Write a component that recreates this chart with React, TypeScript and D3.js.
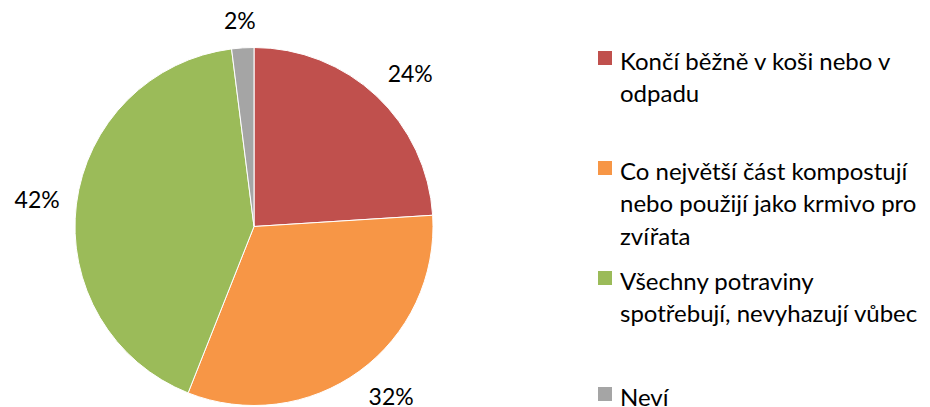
import React from "react";
import * as d3 from "d3";

const categories = [
  "Končí běžně v koši nebo v odpadu",
  "Co největší část kompostují nebo použijí jako krmivo pro zvířata",
  "Všechny potraviny spotřebují, nevyhazují vůbec",
  "Neví",
];
const values = [24, 32, 42, 2];
const labels = ["24%", "32%", "42%", "2%"];
const legendLines = [
  ["Končí běžně v koši nebo v", "odpadu"],
  ["Co největší část kompostují", "nebo použijí jako krmivo pro", "zvířata"],
  ["Všechny potraviny", "spotřebují, nevyhazují vůbec"],
  ["Neví"],
];
const colors = ["#C0504D", "#F79646", "#9BBB59", "#A5A5A5"];

const W = 930;
const H = 407;
const cx = 254;
const cy = 226.5;
const r = 179;
const legendY = [60, 170, 280, 396];
const lineH = 32.5;
const font = "Lato, 'Open Sans', sans-serif";
const labelSize = 23;
const legendSize = 24;

const clamp = (v: number) => Math.max(-1, Math.min(1, v));

export default function App() {
  const pie = d3.pie<number>().sort(null).value((d) => d)(values);
  const arc = d3.arc<d3.PieArcDatum<number>>().innerRadius(0).outerRadius(r);
  const gap = 18;
  return (
    <svg width={W} height={H} style={{ position: "absolute", left: 0, top: 0 }}>
      <rect width={W} height={H} fill="#fff" />
      <g transform={`translate(${cx},${cy})`}>
        {pie.map((p, i) => (
          <path key={i} d={arc(p) || ""} fill={colors[i]} stroke="#fff" strokeWidth={1} />
        ))}
        {pie.map((p, i) => {
          const a = (p.startAngle + p.endAngle) / 2;
          const s = Math.sin(a);
          const c = Math.cos(a);
          const w = labels[i].length * 0.62 * labelSize;
          const h = 20;
          const x = (r + gap) * s + (w / 2) * clamp(s * 2);
          const y = -(r + gap) * c - (h / 2) * clamp(c * 2);
          return (
            <text key={i} x={x} y={y} textAnchor="middle" dominantBaseline="central" fontFamily={font} fontSize={labelSize} fill="#000">
              {labels[i]}
            </text>
          );
        })}
      </g>
      {categories.map((c, i) => (
        <g key={i}>
          <rect x={598} y={legendY[i] - 9} width={14} height={14} fill={colors[i]} />
          {legendLines[i].map((t, j) => (
            <text key={j} x={620} y={legendY[i] + j * lineH} dominantBaseline="central" fontFamily={font} fontSize={legendSize} fill="#000">
              {t}
            </text>
          ))}
        </g>
      ))}
    </svg>
  );
}
